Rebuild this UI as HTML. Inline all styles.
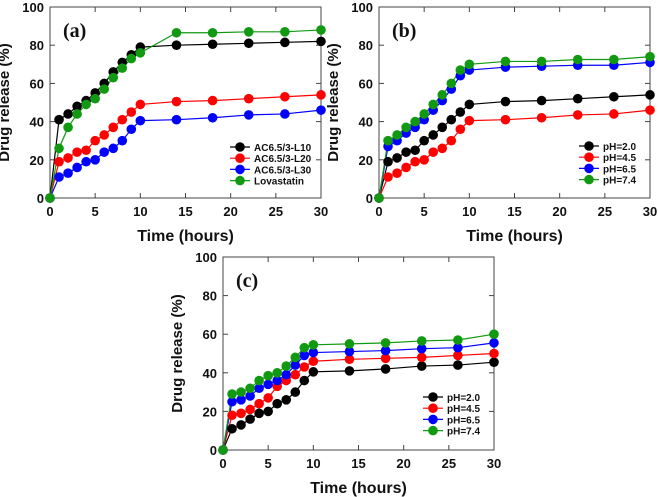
<!DOCTYPE html>
<html><head><meta charset="utf-8"><style>
html,body{margin:0;padding:0;background:#fff}
svg{display:block}
text{font-family:"Liberation Sans",Arial,sans-serif;font-weight:bold;fill:#111}
</style></head><body>
<svg id="c" width="658" height="497" viewBox="0 0 658 497" xmlns="http://www.w3.org/2000/svg"></svg>
<script>
const times = [0,1,2,3,4,5,6,7,8,9,10,14,18,22,26,30];
const xTicks = [0,5,10,15,20,25,30];
const yTicks = [0,20,40,60,80,100];
const seriesA_L10 = [0,41,44,48,51,55,60,66,71,75,79,80,80.5,81,81.5,82];
const seriesA_L20 = [0,19,21,24,25,30,33,37,41,45,49,50.5,51,52,53,54];
const seriesA_L30 = [0,11,13,16,19,20,24,26,30,36,40.5,41,42,43.5,44,46];
const seriesA_Lova = [0,26,37,44,49,52,57,63,68,73,76,86.5,86.5,87,87,88];
const seriesB_20 = [0,19,21,24,25,30,33,37,41,45,49,50.5,51,52,53,54];
const seriesB_45 = [0,11,13,16,19,20,24,26,30,36,40.5,41,42,43.5,44,46];
const seriesB_65 = [0,27,30,34,37,41,46,51,57,64,67,68.5,69,69.5,69.5,71];
const seriesB_74 = [0,30,33,37,40,44,49,54,60,67,70,71.5,71.5,72.5,72.5,74];
const seriesC_20 = [0,11,13,16,19,20,24,26,30,36,40.5,41,42,43.5,44,45.5];
const seriesC_45 = [0,18,19,21,24,27,33,36,39,43,46,47,47.5,48,49,50];
const seriesC_65 = [0,25,26,28,32,34,36,39,44,49,50.5,51,51.5,52.5,53,55.5];
const seriesC_74 = [0,29,30,32,36,38.5,40,43.5,48,53,54.5,55,55.5,56.5,57,60];
const labelsA = ["AC6.5/3-L10","AC6.5/3-L20","AC6.5/3-L30","Lovastatin"];
const labelsPH = ["pH=2.0","pH=4.5","pH=6.5","pH=7.4"];
const colors = ["#000","#f00","#00f","#119911"];

const NS="http://www.w3.org/2000/svg";
const svg=document.getElementById('c');
function mk(tag,attrs,parent,txt){const e=document.createElementNS(NS,tag);for(const k in attrs)e.setAttribute(k,attrs[k]);if(txt!==undefined)e.textContent=txt;(parent||svg).appendChild(e);return e;}

function panel(id,x0,x1,y0,y1,label,series,labels,leg){
  const g=mk('g',{});
  
  
  const sx=v=>x0+(v-0)/30*(x1-x0);
  const sy=v=>y0-(v/100)*(y0-y1);
  const fr=mk('rect',{x:x0,y:y1,width:x1-x0,height:y0-y1,fill:'none',stroke:'#444','stroke-width':1},g);
  
  
  xTicks.forEach(t=>{
    const X=sx(t);
    mk('line',{x1:X,x2:X,y1:y0,y2:y0-5,stroke:'#444'},g);
    mk('line',{x1:X,x2:X,y1:y1,y2:y1+5,stroke:'#444'},g);
    const tl=mk('text',{x:X,y:y0+18,'text-anchor':'middle','font-size':13},g,t);
    
    
  });
  yTicks.forEach(t=>{
    const Y=sy(t);
    mk('line',{x1:x0,x2:x0+5,y1:Y,y2:Y,stroke:'#444'},g);
    mk('line',{x1:x1,x2:x1-5,y1:Y,y2:Y,stroke:'#444'},g);
    const tl=mk('text',{x:x0-6,y:Y+5,'text-anchor':'end','font-size':13},g,t);
    
    
  });
  const xt=mk('text',{x:(x0+x1)/2,y:y0+43,'text-anchor':'middle','font-size':16},g,'Time (hours)');
  
  
  const yc=(y0+y1)/2, yx=x0-41;
  const yt=mk('text',{x:yx,y:yc,'text-anchor':'middle','font-size':15,transform:`rotate(-90 ${yx} ${yc})`},g,'Drug release (%)');
  
  
  const pl=mk('text',{x:x0+13,y:y1+30,'font-size':20,style:'font-family:"Liberation Serif",serif'},g,label);
  
  
  series.forEach((vals,i)=>{
    const pts=times.map((t,j)=>sx(t)+','+sy(vals[j])).join(' ');
    const ln=mk('polyline',{points:pts,fill:'none',stroke:colors[i],'stroke-width':1.2},g);
    
    
  });
  series.forEach((vals,i)=>{
    times.forEach((t,j)=>{
      const c=mk('circle',{cx:sx(t),cy:sy(vals[j]),r:4.8,fill:colors[i]},g);
      
      
    });
  });
  labels.forEach((lab,i)=>{
    const Y=leg.y+i*11.2;
    const e=mk('g',{},g);
    
    
    mk('line',{x1:leg.x,x2:leg.x+20,y1:Y,y2:Y,stroke:colors[i],'stroke-width':1.2},e);
    mk('circle',{cx:leg.x+10,cy:Y,r:4.8,fill:colors[i]},e);
    mk('text',{x:leg.x+24,y:Y+4,'font-size':10},e,lab);
  });
}
panel('a',50,321,198,7,'(a)',[seriesA_L10,seriesA_L20,seriesA_L30,seriesA_Lova],labelsA,{x:230,y:147});
panel('b',379,650,198,7,'(b)',[seriesB_20,seriesB_45,seriesB_65,seriesB_74],labelsPH,{x:579,y:146});
panel('c',223,494,450,257,'(c)',[seriesC_20,seriesC_45,seriesC_65,seriesC_74],labelsPH,{x:423,y:397});
</script>
</body></html>
